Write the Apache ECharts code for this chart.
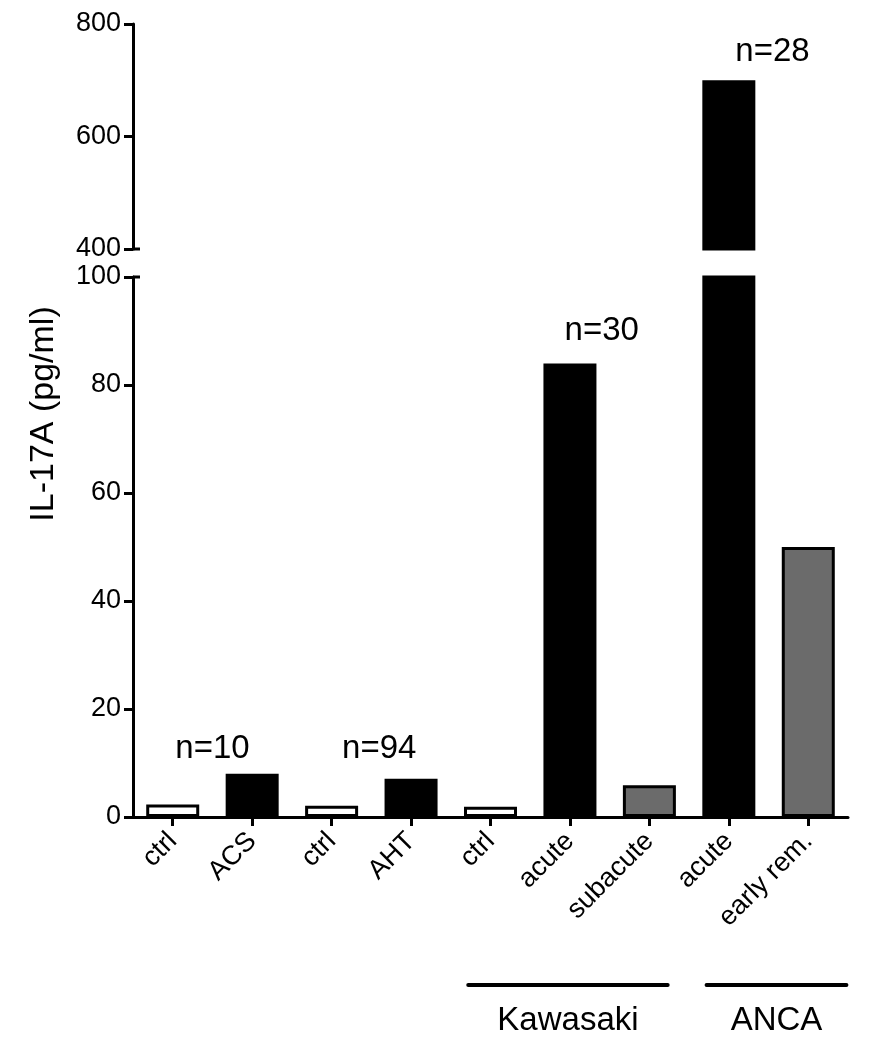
<!DOCTYPE html>
<html>
<head>
<meta charset="utf-8">
<script src="https://cdn.jsdelivr.net/npm/echarts@6.0.0/dist/echarts.min.js"></script>
<style>
  html, body { margin: 0; padding: 0; background: #fff; }
  #chart { width: 870px; height: 1050px; }
</style>
</head>
<body>
<div id="chart"></div>
<script>
// data
var categories = ['ctrl', 'ACS', 'ctrl', 'AHT', 'ctrl', 'acute', 'subacute', 'acute', 'early rem.'];
var values = [2.3, 8.0, 2.1, 7.1, 1.9, 84, 5.9, 700, 50];
var barKind = ['ctrl', 'dis', 'ctrl', 'dis', 'ctrl', 'dis', 'late', 'dis', 'late'];

// n= annotations: x in category units (0 = first bar), y in data units
var annoText = ['n=10', 'n=94', 'n=30', 'n=28'];
var annoX = [0.5, 2.6, 5.4, 7.55];
var annoY = [12.6, 12.6, 90, 750];
var annoPanel = ['low', 'low', 'low', 'high'];

// group brackets under the axis, in category units
var groupNames = ['Kawasaki', 'ANCA'];
var groupFrom = [3.72, 6.72];
var groupTo = [6.23, 8.48];

var breakAt = 100;
var yTicksLow = [0, 100, 20];
var yTicksHigh = [400, 800, 200];

var font = '"Liberation Sans", Arial, Helvetica, sans-serif';
var fills = { ctrl: '#ffffff', dis: '#000000', late: '#6b6b6b' };

var chartDom = document.getElementById('chart');
var myChart = echarts.init(chartDom);

function yAxisCfg(grid, range) {
    return {
        type: 'value',
        gridIndex: grid,
        min: range[0],
        max: range[1],
        interval: range[2],
        splitLine: { show: false },
        axisLine: { show: true, lineStyle: { color: '#000', width: 3 } },
        axisTick: { show: true, length: 9, lineStyle: { color: '#000', width: 3 } },
        axisLabel: { color: '#000', fontSize: 27, fontFamily: font, margin: 12 }
    };
}

var barData = values.map(function (v, i) {
    return { value: v, itemStyle: { color: fills[barKind[i]] } };
});
var barHigh = values.map(function (v, i) {
    return v > breakAt ? { value: v, itemStyle: { color: fills[barKind[i]] } } : '-';
});

var annoLow = [], annoHigh = [];
annoText.forEach(function (t, i) {
    var p = { value: [annoX[i] + 0.5, annoY[i]], name: t };
    (annoPanel[i] === 'high' ? annoHigh : annoLow).push(p);
});

var annoLabel = {
    show: true,
    position: 'inside',
    formatter: '{b}',
    color: '#000',
    opacity: 1,
    textBorderWidth: 0,
    fontSize: 33,
    fontFamily: font
};

var option = {
    animation: false,
    backgroundColor: '#fff',
    grid: [
        { left: 133, right: 22, top: 24, height: 225 },
        { left: 133, right: 22, top: 277, height: 540 }
    ],
    xAxis: [
        { type: 'category', gridIndex: 0, data: categories, show: false },
        {
            type: 'category',
            gridIndex: 1,
            data: categories,
            axisLine: { show: true, lineStyle: { color: '#000', width: 3 } },
            axisTick: { show: true, alignWithLabel: true, length: 9, lineStyle: { color: '#000', width: 3 } },
            axisLabel: { rotate: 45, color: '#000', fontSize: 27, fontFamily: font, margin: 20, interval: 0 }
        },
        { type: 'value', gridIndex: 1, min: 0, max: categories.length, show: false },
        { type: 'value', gridIndex: 0, min: 0, max: categories.length, show: false }
    ],
    yAxis: [yAxisCfg(0, yTicksHigh), yAxisCfg(1, yTicksLow)],
    series: [
        {
            type: 'bar',
            xAxisIndex: 0,
            yAxisIndex: 0,
            barWidth: 53,
            data: barHigh,
            itemStyle: { borderColor: '#000', borderWidth: 3 }
        },
        {
            type: 'bar',
            xAxisIndex: 1,
            yAxisIndex: 1,
            barWidth: 53,
            clip: true,
            data: barData,
            itemStyle: { borderColor: '#000', borderWidth: 3 }
        },
        {
            type: 'scatter',
            xAxisIndex: 2,
            yAxisIndex: 1,
            symbolSize: 0,
            itemStyle: { color: '#000', opacity: 1 },
            label: annoLabel,
            data: annoLow
        },
        {
            type: 'scatter',
            xAxisIndex: 3,
            yAxisIndex: 0,
            symbolSize: 0,
            itemStyle: { color: '#000', opacity: 1 },
            label: annoLabel,
            data: annoHigh
        }
    ]
};

myChart.setOption(option);

// y title, axis-break caps, group brackets below the x labels
var graphics = [{
    type: 'text',
    x: 44,
    y: 414,
    rotation: Math.PI / 2,
    style: {
        text: 'IL-17A (pg/ml)',
        fill: '#000',
        font: '34px ' + font,
        align: 'center',
        verticalAlign: 'middle'
    }
}];

var axisX = myChart.convertToPixel({ xAxisIndex: 2 }, 0);
var capHigh = myChart.convertToPixel({ yAxisIndex: 0 }, yTicksHigh[0]);
var capLow = myChart.convertToPixel({ yAxisIndex: 1 }, yTicksLow[1]);
[capHigh, capLow].forEach(function (y) {
    graphics.push({
        type: 'line',
        shape: { x1: axisX, y1: y, x2: axisX + 7, y2: y },
        style: { stroke: '#000', lineWidth: 3 }
    });
});

groupNames.forEach(function (name, i) {
    var x0 = myChart.convertToPixel({ xAxisIndex: 2 }, groupFrom[i] + 0.5);
    var x1 = myChart.convertToPixel({ xAxisIndex: 2 }, groupTo[i] + 0.5);
    graphics.push({
        type: 'line',
        shape: { x1: x0, y1: 985, x2: x1, y2: 985 },
        style: { stroke: '#000', lineWidth: 4, lineCap: 'round' }
    });
    graphics.push({
        type: 'text',
        x: (x0 + x1) / 2,
        y: 1021,
        style: {
            text: name,
            fill: '#000',
            font: '33px ' + font,
            align: 'center',
            verticalAlign: 'middle'
        }
    });
});
myChart.setOption({ graphic: graphics });
</script>
</body>
</html>
